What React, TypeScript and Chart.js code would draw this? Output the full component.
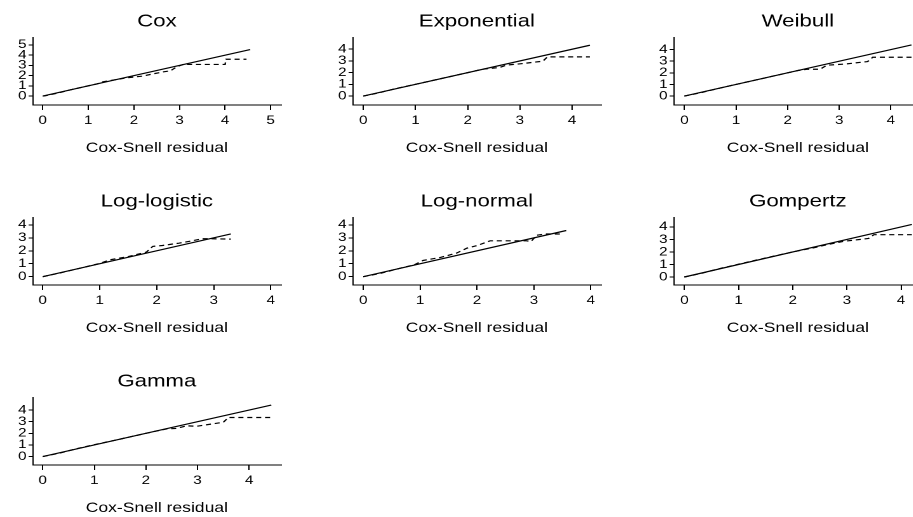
import React, { useEffect, useRef } from "react";
import { Chart, registerables } from "chart.js";

Chart.register(...registerables);

const FONT = '"Liberation Sans", Arial, Helvetica, sans-serif';

// ---------- data ----------
const panelTitles = ["Cox", "Exponential", "Weibull", "Log-logistic", "Log-normal", "Gompertz", "Gamma"];
const xAxisTitle = "Cox-Snell residual";

const coxTicks = [0, 1, 2, 3, 4, 5];
const modelTicks = [0, 1, 2, 3, 4];

// end of the 45-degree reference line (max Cox-Snell residual)
const refLineEnd = [4.55, 4.34, 4.4, 3.3, 3.57, 4.2, 4.43];

// Nelson-Aalen cumulative hazard of the residuals (dashed)
const coxResid = [0, 0.05, 0.3, 0.6, 0.9, 1.2, 1.3, 1.6, 1.87, 2.2, 2.4, 2.65, 2.8, 2.94, 3.08, 4.0, 4.02, 4.47];
const coxHazard = [0, 0.02, 0.26, 0.6, 0.9, 1.2, 1.38, 1.6, 1.8, 1.95, 2.15, 2.37, 2.46, 2.86, 3.09, 3.09, 3.6, 3.6];

const expResid = [0, 0.3, 0.6, 1.0, 1.5, 2.0, 2.29, 2.42, 2.61, 2.74, 3.06, 3.44, 3.53, 4.34];
const expHazard = [0, 0.27, 0.62, 1.0, 1.5, 2.0, 2.3, 2.35, 2.44, 2.64, 2.78, 2.98, 3.35, 3.35];

const weiResid = [0, 0.3, 0.7, 1.0, 1.5, 2.0, 2.2, 2.37, 2.63, 2.76, 3.1, 3.55, 3.65, 4.4];
const weiHazard = [0, 0.27, 0.7, 1.0, 1.5, 2.0, 2.2, 2.31, 2.31, 2.66, 2.75, 2.97, 3.34, 3.34];

const llogResid = [0, 0.3, 0.7, 1.0, 1.18, 1.5, 1.82, 1.93, 2.1, 2.39, 2.62, 2.8, 2.98, 3.3];
const llogHazard = [0, 0.28, 0.7, 1.02, 1.3, 1.55, 1.9, 2.34, 2.41, 2.59, 2.77, 2.93, 2.93, 2.9];

const lnormResid = [0, 0.3, 0.6, 0.9, 1.05, 1.35, 1.64, 1.82, 2.0, 2.23, 2.87, 2.95, 3.05, 3.2, 3.52];
const lnormHazard = [0, 0.25, 0.6, 0.92, 1.25, 1.48, 1.82, 2.2, 2.4, 2.77, 2.77, 2.72, 3.2, 3.3, 3.3];

const gompResid = [0, 0.3, 0.7, 1.0, 1.5, 2.0, 2.45, 2.63, 2.94, 3.4, 3.5, 4.2];
const gompHazard = [0, 0.28, 0.72, 1.02, 1.52, 2.0, 2.39, 2.58, 2.85, 3.08, 3.38, 3.38];

const gamResid = [0, 0.3, 0.7, 1.0, 1.5, 2.0, 2.4, 2.6, 2.79, 2.98, 3.5, 3.6, 4.41];
const gamHazard = [0, 0.27, 0.72, 1.02, 1.5, 2.0, 2.38, 2.42, 2.65, 2.6, 2.95, 3.36, 3.36];

const residSeries = [coxResid, expResid, weiResid, llogResid, lnormResid, gompResid, gamResid];
const hazardSeries = [coxHazard, expHazard, weiHazard, llogHazard, lnormHazard, gompHazard, gamHazard];
const xTickSets = [coxTicks, modelTicks, modelTicks, modelTicks, modelTicks, modelTicks, modelTicks];
const yTickSets = [coxTicks, modelTicks, modelTicks, modelTicks, modelTicks, modelTicks, modelTicks];

// axis ranges
const xMin = [-0.219, -0.2025, -0.207, -0.175, -0.186, -0.197, -0.194];
const xMax = [5.226, 4.554, 4.604, 4.18, 4.18, 4.387, 4.618];
const yMin = [-0.876, -0.766, -0.77, -0.646, -0.646, -0.64, -0.725];
const yMax = [5.745, 5.02, 5.06, 4.59, 4.59, 4.77, 5.095];

// ---------- layout ----------
const SX = 1.27; // horizontal stretch of the original graph
const PANEL_W = 252;
const PANEL_H = 180;
const Y_AXIS_W = 25.75;
const PLOT_RIGHT = 221.26;
const panelPos = [
  { left: 0, top: 0 },
  { left: 320, top: 0 },
  { left: 640.6, top: 0 },
  { left: 0, top: 180 },
  { left: 320, top: 180 },
  { left: 640.6, top: 180 },
  { left: 0, top: 360 },
];

function Panel({ idx }: { idx: number }) {
  const ref = useRef<HTMLCanvasElement | null>(null);
  useEffect(() => {
    if (!ref.current) return;
    const end = refLineEnd[idx];
    const xs = residSeries[idx];
    const ys = hazardSeries[idx];
    const xt = xTickSets[idx];
    const yt = yTickSets[idx];
    const chart = new Chart(ref.current, {
      type: "line",
      data: {
        datasets: [
          {
            data: [
              { x: 0, y: 0 },
              { x: end, y: end },
            ],
            borderColor: "#000",
            borderWidth: 1.2,
            pointRadius: 0,
            tension: 0,
            fill: false,
          },
          {
            data: xs.map((x, i) => ({ x, y: ys[i] })),
            borderColor: "#000",
            borderWidth: 1.2,
            borderDash: [4, 3],
            pointRadius: 0,
            tension: 0,
            fill: false,
          },
        ],
      },
      options: {
        animation: false,
        responsive: false,
        maintainAspectRatio: false,
        devicePixelRatio: 2,
        events: [],
        layout: { padding: { left: 0, right: PANEL_W - PLOT_RIGHT, top: 0, bottom: 0 } },
        plugins: {
          legend: { display: false },
          tooltip: { enabled: false },
          title: {
            display: true,
            text: panelTitles[idx],
            fullSize: false,
            color: "#000",
            font: { family: FONT, size: 17.5, weight: "normal" },
            padding: { top: 11, bottom: 5.3 },
          },
        },
        scales: {
          x: {
            type: "linear",
            min: xMin[idx],
            max: xMax[idx],
            afterBuildTicks: (s: any) => {
              s.ticks = xt.map((v) => ({ value: v }));
            },
            afterFit: (s: any) => {
              s.height = 75;
            },
            grid: { display: true, drawOnChartArea: false, drawTicks: true, tickLength: 5, color: "#000", lineWidth: 1 },
            border: { display: true, color: "#000", width: 1 },
            ticks: { autoSkip: false, maxRotation: 0, padding: 3.3, color: "#000", font: { family: FONT, size: 12 } },
            title: {
              display: true,
              text: xAxisTitle,
              color: "#000",
              font: { family: FONT, size: 13.8 },
              padding: { top: 0, bottom: 23.7 },
            },
          },
          y: {
            type: "linear",
            min: yMin[idx],
            max: yMax[idx],
            afterBuildTicks: (s: any) => {
              s.ticks = yt.map((v) => ({ value: v }));
            },
            afterFit: (s: any) => {
              s.width = Y_AXIS_W;
            },
            grid: { display: true, drawOnChartArea: false, drawTicks: true, tickLength: 3.2, color: "#000", lineWidth: 1 },
            border: { display: true, color: "#000", width: 1 },
            ticks: { autoSkip: false, padding: 1.6, color: "#000", font: { family: FONT, size: 12 } },
          },
        },
      } as any,
    });
    return () => chart.destroy();
  }, [idx]);

  const pos = panelPos[idx];
  return (
    <div
      style={{
        position: "absolute",
        left: pos.left,
        top: pos.top,
        width: PANEL_W,
        height: PANEL_H,
        transform: `scaleX(${SX})`,
        transformOrigin: "0 0",
      }}
    >
      <canvas ref={ref} width={PANEL_W} height={PANEL_H} />
    </div>
  );
}

export default function App() {
  return (
    <div
      style={{
        position: "fixed",
        left: 0,
        top: 0,
        width: 913,
        height: 517,
        overflow: "hidden",
        background: "#fff",
      }}
    >
      {panelTitles.map((_, i) => (
        <Panel key={i} idx={i} />
      ))}
    </div>
  );
}
